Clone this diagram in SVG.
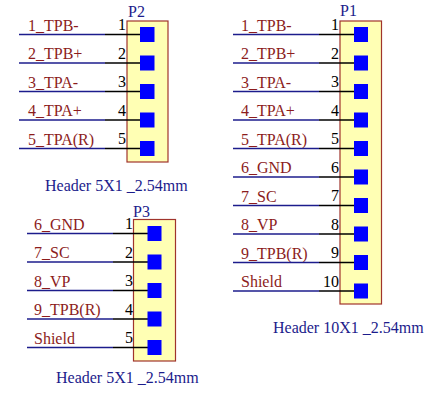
<svg xmlns="http://www.w3.org/2000/svg" width="443" height="393" viewBox="0 0 443 393">
<style>
.box{fill:#FFFFB4;stroke:#A0342C;stroke-width:1.2}
.wire{stroke:#1C1C8C;stroke-width:1.6}
.pin{stroke:#000;stroke-width:1.6}
.pad{fill:#0000FF}
.net{font-family:"Liberation Serif",serif;font-size:16px;fill:#8C1C1C}
.num{font-family:"Liberation Serif",serif;font-size:16px;fill:#000;text-anchor:end}
.des{font-family:"Liberation Serif",serif;font-size:16px;fill:#1C1C8C}
</style>
<rect width="443" height="393" fill="#fff"/>
<g id="labels">
<text class="net" x="28" y="30.5">1_TPB-</text>
<text class="net" x="28" y="59">2_TPB+</text>
<text class="net" x="28" y="87.5">3_TPA-</text>
<text class="net" x="28" y="116">4_TPA+</text>
<text class="net" x="28" y="144.5">5_TPA(R)</text>
<text class="net" x="241" y="30.5">1_TPB-</text>
<text class="net" x="241" y="59">2_TPB+</text>
<text class="net" x="241" y="87.5">3_TPA-</text>
<text class="net" x="241" y="116">4_TPA+</text>
<text class="net" x="241" y="144.5">5_TPA(R)</text>
<text class="net" x="241" y="173">6_GND</text>
<text class="net" x="241" y="201.5">7_SC</text>
<text class="net" x="241" y="230">8_VP</text>
<text class="net" x="241" y="258.5">9_TPB(R)</text>
<text class="net" x="241" y="287">Shield</text>
<text class="net" x="34" y="229.5">6_GND</text>
<text class="net" x="34" y="258">7_SC</text>
<text class="net" x="34" y="286.5">8_VP</text>
<text class="net" x="34" y="315">9_TPB(R)</text>
<text class="net" x="34" y="343.5">Shield</text>
</g>
<g id="connectors">
<!-- P2 -->
<line class="wire" x1="19" y1="34.5" x2="105" y2="34.5"/>
<line class="wire" x1="19" y1="63" x2="105" y2="63"/>
<line class="wire" x1="19" y1="91.5" x2="105" y2="91.5"/>
<line class="wire" x1="19" y1="120" x2="105" y2="120"/>
<line class="wire" x1="19" y1="148.5" x2="105" y2="148.5"/>
<!-- P1 -->
<line class="wire" x1="233" y1="34.5" x2="319" y2="34.5"/>
<line class="wire" x1="233" y1="63" x2="319" y2="63"/>
<line class="wire" x1="233" y1="91.5" x2="319" y2="91.5"/>
<line class="wire" x1="233" y1="120" x2="319" y2="120"/>
<line class="wire" x1="233" y1="148.5" x2="319" y2="148.5"/>
<line class="wire" x1="233" y1="177" x2="319" y2="177"/>
<line class="wire" x1="233" y1="205.5" x2="319" y2="205.5"/>
<line class="wire" x1="233" y1="234" x2="319" y2="234"/>
<line class="wire" x1="233" y1="262.5" x2="319" y2="262.5"/>
<line class="wire" x1="233" y1="291" x2="319" y2="291"/>
<!-- P3 -->
<line class="wire" x1="27" y1="233.5" x2="113" y2="233.5"/>
<line class="wire" x1="27" y1="262" x2="113" y2="262"/>
<line class="wire" x1="27" y1="290.5" x2="113" y2="290.5"/>
<line class="wire" x1="27" y1="319" x2="113" y2="319"/>
<line class="wire" x1="27" y1="347.5" x2="113" y2="347.5"/>
</g>
<g id="P2">
<rect class="box" x="127" y="21" width="41" height="141"/>
<line class="pin" x1="105" y1="34.5" x2="147" y2="34.5"/>
<line class="pin" x1="105" y1="63" x2="147" y2="63"/>
<line class="pin" x1="105" y1="91.5" x2="147" y2="91.5"/>
<line class="pin" x1="105" y1="120" x2="147" y2="120"/>
<line class="pin" x1="105" y1="148.5" x2="147" y2="148.5"/>
<rect class="pad" x="140" y="27" width="14.5" height="15"/>
<rect class="pad" x="140" y="55.5" width="14.5" height="15"/>
<rect class="pad" x="140" y="84" width="14.5" height="15"/>
<rect class="pad" x="140" y="112.5" width="14.5" height="15"/>
<rect class="pad" x="140" y="141" width="14.5" height="15"/>
<text class="num" x="126" y="30">1</text>
<text class="num" x="126" y="58.5">2</text>
<text class="num" x="126" y="87">3</text>
<text class="num" x="126" y="115.5">4</text>
<text class="num" x="126" y="144">5</text>
<text class="des" x="128" y="17">P2</text>
<text class="des" x="45" y="191">Header 5X1 _2.54mm</text>
</g>
<g id="P1">
<rect class="box" x="340" y="21" width="41.5" height="283"/>
<line class="pin" x1="319" y1="34.5" x2="360" y2="34.5"/>
<line class="pin" x1="319" y1="63" x2="360" y2="63"/>
<line class="pin" x1="319" y1="91.5" x2="360" y2="91.5"/>
<line class="pin" x1="319" y1="120" x2="360" y2="120"/>
<line class="pin" x1="319" y1="148.5" x2="360" y2="148.5"/>
<line class="pin" x1="319" y1="177" x2="360" y2="177"/>
<line class="pin" x1="319" y1="205.5" x2="360" y2="205.5"/>
<line class="pin" x1="319" y1="234" x2="360" y2="234"/>
<line class="pin" x1="319" y1="262.5" x2="360" y2="262.5"/>
<line class="pin" x1="319" y1="291" x2="360" y2="291"/>
<rect class="pad" x="354" y="27" width="14" height="15"/>
<rect class="pad" x="354" y="55.5" width="14" height="15"/>
<rect class="pad" x="354" y="84" width="14" height="15"/>
<rect class="pad" x="354" y="112.5" width="14" height="15"/>
<rect class="pad" x="354" y="141" width="14" height="15"/>
<rect class="pad" x="354" y="169.5" width="14" height="15"/>
<rect class="pad" x="354" y="198" width="14" height="15"/>
<rect class="pad" x="354" y="226.5" width="14" height="15"/>
<rect class="pad" x="354" y="255" width="14" height="15"/>
<rect class="pad" x="354" y="283.5" width="14" height="15"/>
<text class="num" x="339" y="30">1</text>
<text class="num" x="339" y="58.5">2</text>
<text class="num" x="339" y="87">3</text>
<text class="num" x="339" y="115.5">4</text>
<text class="num" x="339" y="144">5</text>
<text class="num" x="339" y="172.5">6</text>
<text class="num" x="339" y="201">7</text>
<text class="num" x="339" y="229.5">8</text>
<text class="num" x="339" y="258">9</text>
<text class="num" x="339" y="286.5">10</text>
<text class="des" x="340" y="16">P1</text>
<text class="des" x="273" y="333">Header 10X1 _2.54mm</text>
</g>
<g id="P3">
<rect class="box" x="133.5" y="219.5" width="42" height="141.5"/>
<line class="pin" x1="113" y1="233.5" x2="154" y2="233.5"/>
<line class="pin" x1="113" y1="262" x2="154" y2="262"/>
<line class="pin" x1="113" y1="290.5" x2="154" y2="290.5"/>
<line class="pin" x1="113" y1="319" x2="154" y2="319"/>
<line class="pin" x1="113" y1="347.5" x2="154" y2="347.5"/>
<rect class="pad" x="147.5" y="226" width="14" height="15"/>
<rect class="pad" x="147.5" y="254.5" width="14" height="15"/>
<rect class="pad" x="147.5" y="283" width="14" height="15"/>
<rect class="pad" x="147.5" y="311.5" width="14" height="15"/>
<rect class="pad" x="147.5" y="340" width="14" height="15"/>
<text class="num" x="133" y="229">1</text>
<text class="num" x="133" y="257.5">2</text>
<text class="num" x="133" y="286">3</text>
<text class="num" x="133" y="314.5">4</text>
<text class="num" x="133" y="343">5</text>
<text class="des" x="133" y="216.5">P3</text>
<text class="des" x="56" y="383">Header 5X1 _2.54mm</text>
</g>
</svg>
